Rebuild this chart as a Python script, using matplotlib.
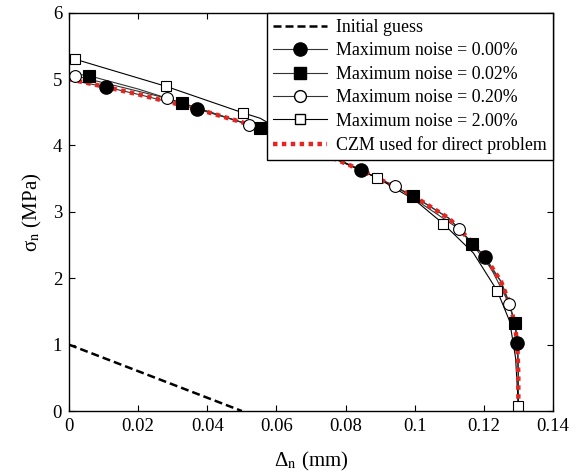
import matplotlib
matplotlib.use('Agg')
import matplotlib.pyplot as plt
from matplotlib.lines import Line2D

plt.rcParams['font.family'] = ['Liberation Serif', 'DejaVu Serif']
plt.rcParams['mathtext.fontset'] = 'stix'

# initial guess (linear)
guess_x = [0.0, 0.05]
guess_y = [1.0, 0.0]

# CZM used for the direct problem
czm_x = [0.0, 0.0107, 0.02, 0.037, 0.05, 0.06, 0.07, 0.0845, 0.0996, 0.11, 0.1166, 0.1204, 0.125, 0.1275, 0.129, 0.1297, 0.1300, 0.1300]
czm_y = [5.0, 4.88, 4.77, 4.55, 4.35, 4.17, 3.95, 3.63, 3.24, 2.90, 2.54, 2.32, 1.95, 1.62, 1.30, 1.00, 0.55, 0.0]

# identified curves, one per noise level (line points)
n000_x = [0.0, 0.0107, 0.02, 0.037, 0.05, 0.06, 0.07, 0.0845, 0.0996, 0.11, 0.1204, 0.125, 0.1275, 0.129, 0.1297, 0.1300, 0.1300]
n000_y = [4.99, 4.88, 4.77, 4.55, 4.35, 4.17, 3.95, 3.63, 3.24, 2.90, 2.32, 1.95, 1.62, 1.30, 1.02, 0.55, 0.0]
n002_x = [0.0, 0.0058, 0.02, 0.0327, 0.0553, 0.07, 0.0845, 0.0996, 0.11, 0.1166, 0.125, 0.1291, 0.1298, 0.1300, 0.1300]
n002_y = [5.09, 5.05, 4.85, 4.64, 4.26, 3.96, 3.63, 3.24, 2.90, 2.52, 1.95, 1.33, 1.00, 0.55, 0.0]
n020_x = [0.0, 0.0017, 0.0284, 0.0521, 0.07, 0.0944, 0.1129, 0.1204, 0.1274, 0.129, 0.1297, 0.1300, 0.1300]
n020_y = [5.06, 5.05, 4.71, 4.31, 3.96, 3.39, 2.74, 2.32, 1.61, 1.30, 1.00, 0.55, 0.0]
n200_x = [0.0, 0.0017, 0.0281, 0.0504, 0.0553, 0.065, 0.075, 0.0892, 0.1, 0.1083, 0.117, 0.1239, 0.1275, 0.1292, 0.1300, 0.1300]
n200_y = [5.32, 5.30, 4.89, 4.49, 4.41, 4.12, 3.86, 3.51, 3.18, 2.82, 2.38, 1.81, 1.35, 0.80, 0.08, 0.0]

# marker positions
m000_x = [0.0107, 0.037, 0.0845, 0.1204, 0.1297]
m000_y = [4.88, 4.55, 3.63, 2.32, 1.02]
m002_x = [0.0058, 0.0327, 0.0553, 0.0996, 0.1166, 0.1291]
m002_y = [5.05, 4.64, 4.26, 3.24, 2.52, 1.33]
m020_x = [0.0017, 0.0284, 0.0521, 0.0944, 0.1129, 0.1274]
m020_y = [5.05, 4.71, 4.31, 3.39, 2.74, 1.61]
m200_x = [0.0017, 0.0281, 0.0504, 0.0892, 0.1083, 0.1239, 0.1300]
m200_y = [5.30, 4.89, 4.49, 3.51, 2.82, 1.81, 0.08]

xticks = [0, 0.02, 0.04, 0.06, 0.08, 0.1, 0.12, 0.14]
xtick_labels = ['0', '0.02', '0.04', '0.06', '0.08', '0.1', '0.12', '0.14']
yticks = [0, 1, 2, 3, 4, 5, 6]

red = '#e5251f'

fig = plt.figure(figsize=(5.82, 4.75), dpi=100)
ax = fig.add_axes([0.1186, 0.1347, 0.8314, 0.8386])

ax.plot(guess_x, guess_y, color='black', linestyle=(0, (3.2, 1.6)), linewidth=1.8)
ax.plot(n000_x, n000_y, color='#333333', linewidth=0.8)
ax.plot(n002_x, n002_y, color='#333333', linewidth=0.8)
ax.plot(n020_x, n020_y, color='#333333', linewidth=0.8)
ax.plot(n200_x, n200_y, color='black', linewidth=0.8)
ax.plot(czm_x, czm_y, color=red, linestyle=(0, (1.0, 1.0)), linewidth=3.2)
ax.plot(m000_x, m000_y, 'o', ms=9.5, mfc='black', mec='black')
ax.plot(m002_x, m002_y, 's', ms=8, mfc='black', mec='black', mew=0.8)
ax.plot(m020_x, m020_y, 'o', ms=8.5, mfc='white', mec='black', mew=0.8)
ax.plot(m200_x, m200_y, 's', ms=7.5, mfc='white', mec='black', mew=0.8)

ax.set_xlim(0, 0.14)
ax.set_ylim(0, 6)
ax.set_xticks(xticks)
ax.set_xticklabels(xtick_labels)
ax.set_yticks(yticks)
ax.tick_params(direction='in', top=True, right=True, length=4, labelsize=13.5, pad=5)
for s in ax.spines.values():
    s.set_linewidth(1.0)
ax.set_xlabel('Δ$_\\mathrm{n}$ (mm)', fontsize=15, labelpad=11)
ax.set_ylabel('σ$_\\mathrm{n}$ (MPa)', fontsize=15, labelpad=6)

handles = [
    Line2D([], [], color='black', linestyle=(0, (3.2, 1.6)), linewidth=1.8),
    Line2D([], [], color='#333333', linewidth=0.8, marker='o', ms=9.5, mfc='black', mec='black'),
    Line2D([], [], color='#333333', linewidth=0.8, marker='s', ms=8, mfc='black', mec='black'),
    Line2D([], [], color='#333333', linewidth=0.8, marker='o', ms=8.5, mfc='white', mec='black'),
    Line2D([], [], color='black', linewidth=0.8, marker='s', ms=7.5, mfc='white', mec='black'),
    Line2D([], [], color=red, linestyle=(0, (1.0, 1.0)), linewidth=3.2),
]
labels = ['Initial guess', 'Maximum noise = 0.00%', 'Maximum noise = 0.02%',
          'Maximum noise = 0.20%', 'Maximum noise = 2.00%', 'CZM used for direct problem']
leg = ax.legend(handles, labels, loc='upper right', borderaxespad=0, fancybox=False,
                edgecolor='black', framealpha=1, fontsize=12.9, handlelength=3.0,
                labelspacing=0.36, borderpad=0.35, handletextpad=0.5)
leg.get_frame().set_linewidth(1.0)

fig.savefig('out.png', dpi=100)
